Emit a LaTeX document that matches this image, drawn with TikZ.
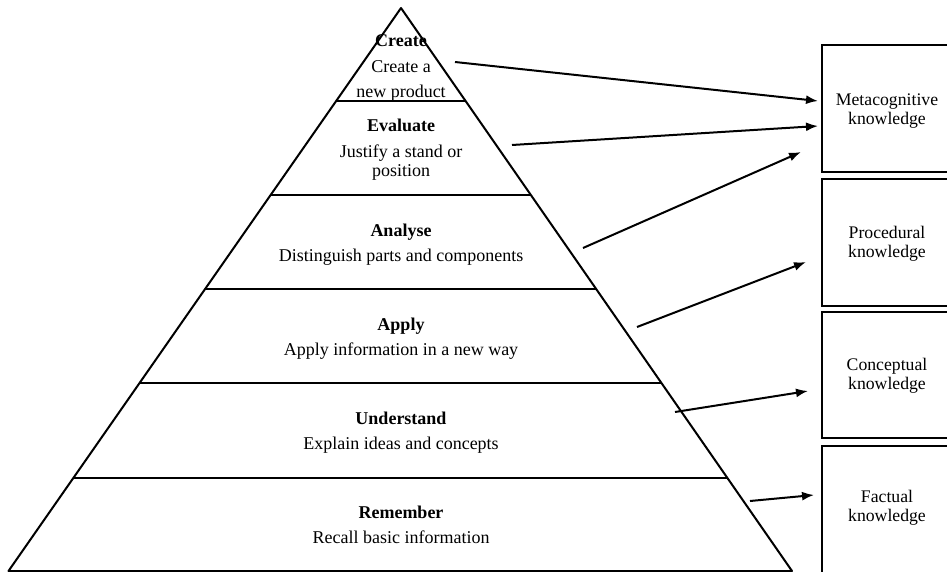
\documentclass[tikz,border=0pt]{standalone}
\usepackage{fontspec}
\setmainfont{Liberation Serif}
\usetikzlibrary{arrows.meta}
\begin{document}
\begin{tikzpicture}[x=1pt,y=-1pt,
  edge/.style={line width=2pt, line join=round},
  lvl/.style={font=\fontsize{18}{20}\selectfont\bfseries, anchor=base, inner sep=0},
  desc/.style={font=\fontsize{18}{20}\selectfont, anchor=base, inner sep=0},
  kbox/.style={draw, line width=2pt},
  ktext/.style={font=\fontsize{17.7}{19}\selectfont, align=center, inner sep=0},
  link/.style={line width=2pt, -{Latex[length=12pt,width=9pt]}}]
\useasboundingbox (0,0) rectangle (947,572);
\clip (0,0) rectangle (947,572);

% pyramid
\coordinate (apex) at (401,8);
\coordinate (bl) at (8.5,571);
\coordinate (br) at (792,571);
\draw[edge] (bl) -- (apex) -- (br) -- cycle;
\draw[edge] (336.4,101) -- (465.6,101);
\draw[edge] (271,195) -- (531,195);
\draw[edge] (205.7,289) -- (596.3,289);
\draw[edge] (140.4,383) -- (661.6,383);
\draw[edge] (74.3,478) -- (727.7,478);

% level texts
\node[lvl] (create) at (401,47) {Create};
\node[desc] (created1) at (401,73) {Create a};
\node[desc] (created2) at (401,98) {new product};
\node[lvl] (evaluate) at (401,132) {Evaluate};
\node[desc] (evald1) at (401,158) {Justify a stand or};
\node[desc] (evald2) at (401,177) {position};
\node[lvl] (analyse) at (401,236) {Analyse};
\node[desc] (anad) at (401,261) {Distinguish parts and components};
\node[lvl] (apply) at (401,330) {Apply};
\node[desc] (appd) at (401,355) {Apply information in a new way};
\node[lvl] (understand) at (401,424) {Understand};
\node[desc] (undd) at (401,449) {Explain ideas and concepts};
\node[lvl] (remember) at (401,518) {Remember};
\node[desc] (remd) at (401,543) {Recall basic information};

% knowledge boxes
\draw[kbox] (960,45) -- (822,45) -- (822,172) -- (960,172);
\draw[kbox] (960,179) -- (822,179) -- (822,306) -- (960,306);
\draw[kbox] (960,312) -- (822,312) -- (822,438) -- (960,438);
\draw[kbox] (960,446) -- (822,446) -- (822,590);
\node[ktext] (meta) at (887,111) {Metacognitive\\knowledge};
\node[ktext] (proc) at (887,244) {Procedural\\knowledge};
\node[ktext] (conc) at (887,376) {Conceptual\\knowledge};
\node[ktext] (fact) at (887,508) {Factual\\knowledge};

% arrows
\coordinate (s1) at (455,62);  \coordinate (e1) at (818,101);
\coordinate (s2) at (512,145); \coordinate (e2) at (818,126);
\coordinate (s3) at (583,248); \coordinate (e3) at (801,152);
\coordinate (s4) at (637,327); \coordinate (e4) at (806,262);
\coordinate (s5) at (675,412); \coordinate (e5) at (808,391);
\coordinate (s6) at (750,501); \coordinate (e6) at (814,495);
\draw[link] (s1) -- (e1);
\draw[link] (s2) -- (e2);
\draw[link] (s3) -- (e3);
\draw[link] (s4) -- (e4);
\draw[link] (s5) -- (e5);
\draw[link] (s6) -- (e6);
\end{tikzpicture}
\end{document}
